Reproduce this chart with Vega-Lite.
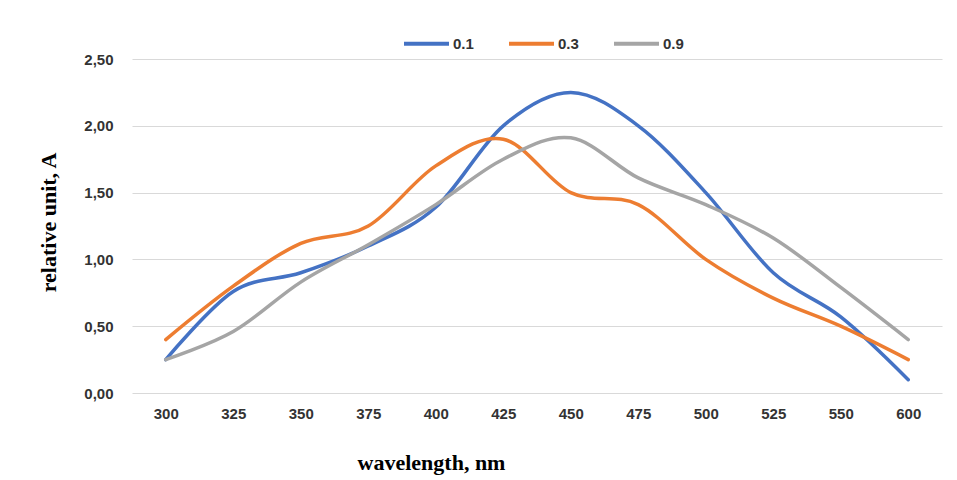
{
  "$schema": "https://vega.github.io/schema/vega-lite/v6.json",
  "autosize": "none",
  "width": 810,
  "height": 334,
  "padding": {"left": 132, "top": 59, "right": 15, "bottom": 87},
  "background": "white",
  "config": {"view": {"stroke": null}},
  "data": {"values": [
    {"wl": "300", "s": "0.1", "v": 0.25}, {"wl": "325", "s": "0.1", "v": 0.76}, {"wl": "350", "s": "0.1", "v": 0.9},
    {"wl": "375", "s": "0.1", "v": 1.1}, {"wl": "400", "s": "0.1", "v": 1.39}, {"wl": "425", "s": "0.1", "v": 2.0},
    {"wl": "450", "s": "0.1", "v": 2.25}, {"wl": "475", "s": "0.1", "v": 2.0}, {"wl": "500", "s": "0.1", "v": 1.5},
    {"wl": "525", "s": "0.1", "v": 0.9}, {"wl": "550", "s": "0.1", "v": 0.57}, {"wl": "600", "s": "0.1", "v": 0.1},
    {"wl": "300", "s": "0.3", "v": 0.4}, {"wl": "325", "s": "0.3", "v": 0.8}, {"wl": "350", "s": "0.3", "v": 1.12},
    {"wl": "375", "s": "0.3", "v": 1.25}, {"wl": "400", "s": "0.3", "v": 1.7}, {"wl": "425", "s": "0.3", "v": 1.9},
    {"wl": "450", "s": "0.3", "v": 1.5}, {"wl": "475", "s": "0.3", "v": 1.41}, {"wl": "500", "s": "0.3", "v": 1.0},
    {"wl": "525", "s": "0.3", "v": 0.71}, {"wl": "550", "s": "0.3", "v": 0.5}, {"wl": "600", "s": "0.3", "v": 0.25},
    {"wl": "300", "s": "0.9", "v": 0.25}, {"wl": "325", "s": "0.9", "v": 0.46}, {"wl": "350", "s": "0.9", "v": 0.83},
    {"wl": "375", "s": "0.9", "v": 1.11}, {"wl": "400", "s": "0.9", "v": 1.41}, {"wl": "425", "s": "0.9", "v": 1.75},
    {"wl": "450", "s": "0.9", "v": 1.91}, {"wl": "475", "s": "0.9", "v": 1.61}, {"wl": "500", "s": "0.9", "v": 1.41},
    {"wl": "525", "s": "0.9", "v": 1.16}, {"wl": "550", "s": "0.9", "v": 0.79}, {"wl": "600", "s": "0.9", "v": 0.4}
  ]},
  "mark": {"type": "line", "interpolate": "cardinal", "strokeWidth": 3.5, "strokeCap": "round"},
  "encoding": {
    "x": {
      "field": "wl", "type": "ordinal", "scale": {"type": "point", "padding": 0.5},
      "axis": {
        "title": "wavelength, nm", "labelAngle": 0, "domain": false, "ticks": false, "grid": false,
        "labelFont": "Liberation Sans", "labelFontWeight": "bold", "labelFontSize": 15, "labelColor": "#333333",
        "labelPadding": 13,
        "titleFont": "Liberation Serif", "titleFontWeight": "bold", "titleFontSize": 22, "titleColor": "#000000",
        "titleX": 299, "titleY": 69, "titleBaseline": "middle", "titleAlign": "center"
      }
    },
    "y": {
      "field": "v", "type": "quantitative", "scale": {"domain": [0, 2.5], "nice": false, "zero": true},
      "axis": {
        "title": "relative unit, A", "values": [0, 0.5, 1, 1.5, 2, 2.5],
        "labelExpr": "replace(format(datum.value, '.2f'), '.', ',')",
        "domain": false, "ticks": false, "gridColor": "#D9D9D9", "gridWidth": 1,
        "labelFont": "Liberation Sans", "labelFontWeight": "bold", "labelFontSize": 15, "labelColor": "#333333",
        "labelPadding": 19,
        "titleFont": "Liberation Serif", "titleFontWeight": "bold", "titleFontSize": 22, "titleColor": "#000000",
        "titleX": -84, "titleY": 163, "titleAngle": -90, "titleBaseline": "middle", "titleAlign": "center"
      }
    },
    "color": {
      "field": "s", "type": "nominal",
      "scale": {"domain": ["0.1", "0.3", "0.9"], "range": ["#4472C4", "#ED7D31", "#A5A5A5"]},
      "legend": {
        "title": null, "orient": "none", "direction": "horizontal", "legendX": 270, "legendY": -40,
        "symbolType": "stroke", "symbolSize": 2025, "symbolStrokeWidth": 4, "padding": 0,
        "labelFont": "Liberation Sans", "labelFontWeight": "bold", "labelFontSize": 15, "labelColor": "#333333",
        "labelOffset": 2, "columnPadding": 27
      }
    }
  }
}
